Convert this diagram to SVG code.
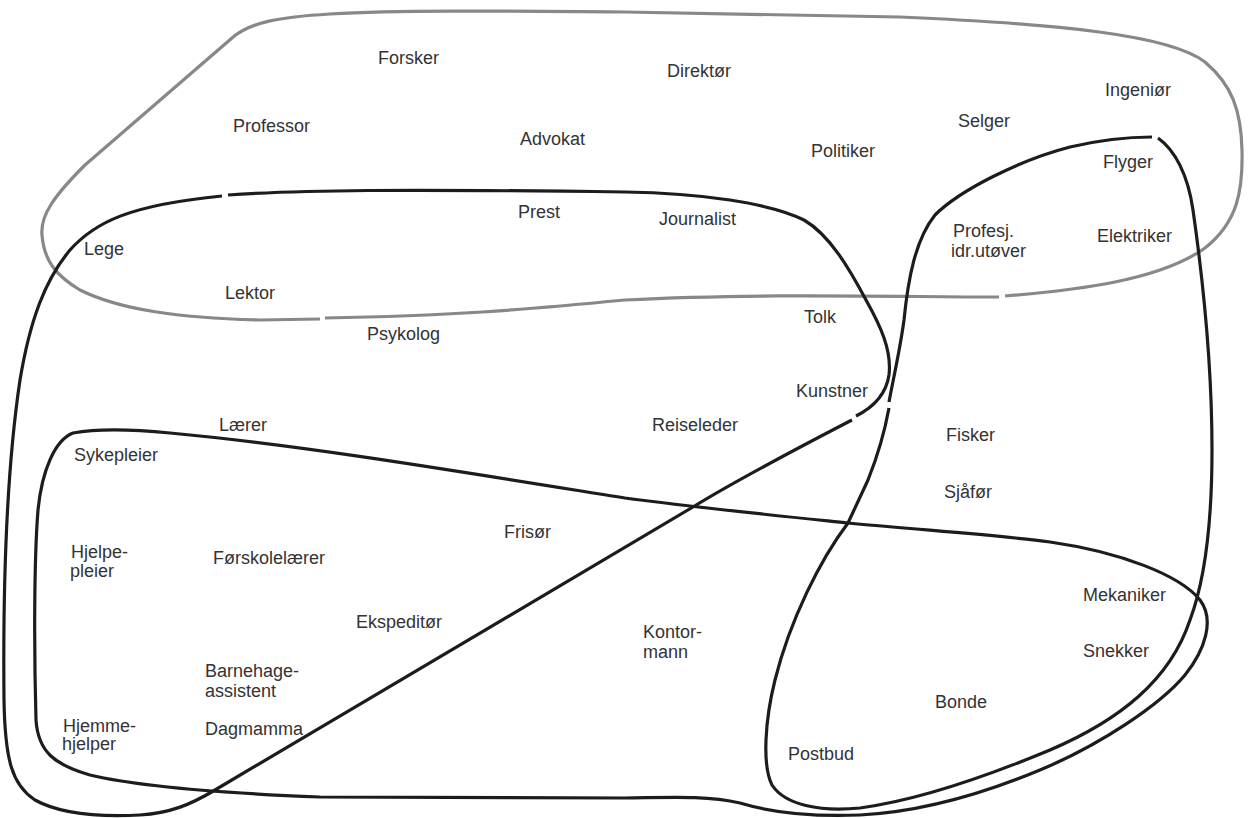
<svg xmlns="http://www.w3.org/2000/svg" width="1250" height="818" viewBox="0 0 1250 818">
<style>
  text { font-family: "Liberation Sans", Arial, sans-serif; font-size: 18px; fill: #333; }
  .blk { fill: none; stroke: #1c1c1c; stroke-width: 3.2; stroke-linecap: butt; stroke-linejoin: round; }
  .gry { fill: none; stroke: #888; stroke-width: 3.2; stroke-linecap: butt; stroke-linejoin: round; }
</style>
<rect width="1250" height="818" fill="#fff"/>
<g id="outlines">
  <path class="gry" d="M1005,296 C1080,290 1160,280 1205,248 C1238,222 1243,190 1242,150 C1241,110 1232,85 1205,62 C1170,35 1060,24 900,17 L625,12 C500,11 400,10 330,14 C280,17 250,22 232,38 L85,165 C55,195 40,215 42,235 C44,260 55,275 80,290 C120,310 180,318 260,320 L320,319"/>
  <path class="gry" d="M325,318 C450,316 520,310 625,300 C760,293 900,297 999,297"/>
  <path class="blk" d="M228,195 C300,190 400,189 625,192 C700,193 770,203 804,220 C830,235 850,270 866,300 C880,325 892,350 889,375 C886,395 872,408 856,416"/>
  <path class="blk" d="M852,420 C800,447 740,478 693,507 L215,790 C190,805 170,813 140,815 C100,817 60,814 35,800 C12,785 5,760 4,700 C3,600 5,480 20,380 C30,320 45,280 70,250 C95,222 130,205 222,196"/>
  <path class="blk" d="M889,402 C893,380 900,350 904,320 C908,280 915,240 935,215 C960,190 1020,160 1070,147 C1100,140 1130,137 1152,137"/>
  <path class="blk" d="M1158,138 C1175,150 1188,175 1193,210 C1203,280 1212,360 1212,450 C1212,520 1205,580 1190,620 C1170,680 1120,720 1050,750 C990,775 920,800 860,808 C820,812 785,805 772,785 C762,765 765,720 775,680 C790,620 820,560 848,523 L868,480 C878,455 885,430 889,408"/>
  <path class="blk" d="M73,433 C100,428 140,430 170,433 C300,445 450,470 625,498 C700,508 800,518 848,523 C920,530 1000,535 1050,542 C1120,552 1180,575 1200,600 C1215,620 1205,650 1185,675 C1160,705 1100,745 1040,770 C980,795 920,812 860,815 C810,817 770,812 740,803 C710,796 680,797 625,798 L320,797 C220,793 140,787 90,775 C55,765 38,752 36,720 C34,650 34,560 38,510 C42,470 55,440 73,433 Z"/>
</g>
<g id="forsker"><text x="378" y="64">Forsker</text></g>
<g id="direktor"><text x="667" y="77">Direktør</text></g>
<g id="ingenior"><text x="1105" y="96">Ingeniør</text></g>
<g id="professor"><text x="233" y="132">Professor</text></g>
<g id="advokat"><text x="520" y="145">Advokat</text></g>
<g id="selger"><text x="958" y="127">Selger</text></g>
<g id="politiker"><text x="811" y="157">Politiker</text></g>
<g id="flyger"><text x="1103" y="168">Flyger</text></g>
<g id="prest"><text x="518" y="218">Prest</text></g>
<g id="journalist"><text x="659" y="225">Journalist</text></g>
<g id="lege"><text x="84" y="255">Lege</text></g>
<g id="profesj"><text x="953" y="237">Profesj.</text><text x="951" y="257">idr.utøver</text></g>
<g id="elektriker"><text x="1097" y="242">Elektriker</text></g>
<g id="lektor"><text x="225" y="299">Lektor</text></g>
<g id="tolk"><text x="804" y="323">Tolk</text></g>
<g id="psykolog"><text x="367" y="340">Psykolog</text></g>
<g id="kunstner"><text x="796" y="397">Kunstner</text></g>
<g id="laerer"><text x="219" y="431">Lærer</text></g>
<g id="reiseleder"><text x="652" y="431">Reiseleder</text></g>
<g id="fisker"><text x="946" y="441">Fisker</text></g>
<g id="sykepleier"><text x="74" y="461">Sykepleier</text></g>
<g id="sjafor"><text x="944" y="498">Sjåfør</text></g>
<g id="frisor"><text x="504" y="538">Frisør</text></g>
<g id="hjelpepleier"><text x="71" y="558">Hjelpe-</text><text x="70" y="577">pleier</text></g>
<g id="forskolelaerer"><text x="213" y="564">Førskolelærer</text></g>
<g id="mekaniker"><text x="1083" y="601">Mekaniker</text></g>
<g id="ekspeditor"><text x="356" y="628">Ekspeditør</text></g>
<g id="kontormann"><text x="643" y="638">Kontor-</text><text x="643" y="658">mann</text></g>
<g id="snekker"><text x="1083" y="657">Snekker</text></g>
<g id="barnehageassistent"><text x="205" y="677">Barnehage-</text><text x="205" y="697">assistent</text></g>
<g id="bonde"><text x="935" y="708">Bonde</text></g>
<g id="hjemmehjelper"><text x="63" y="732">Hjemme-</text><text x="62" y="750">hjelper</text></g>
<g id="dagmamma"><text x="205" y="735">Dagmamma</text></g>
<g id="postbud"><text x="788" y="760">Postbud</text></g>
</svg>
